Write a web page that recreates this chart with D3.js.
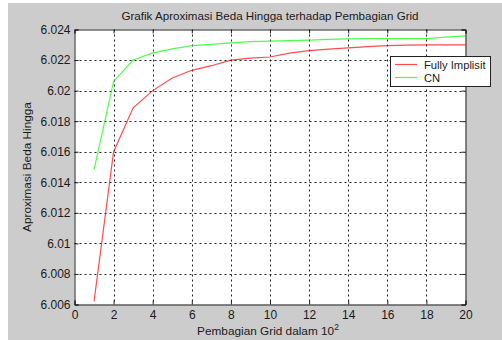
<!DOCTYPE html>
<html>
<head>
<meta charset="utf-8">
<script src="https://cdn.jsdelivr.net/npm/d3@7/dist/d3.min.js"></script>
<style>
  html, body { margin: 0; padding: 0; background: #fff; }
  svg { display: block; }
  text { font-family: "Liberation Sans", Arial, sans-serif; fill: #1a1a1a; }
</style>
</head>
<body>
<div id="chart"></div>
<script>
// Grid divisions (x 10^2)
const gridDiv = [1, 2, 3, 4, 5, 6, 7, 8, 9, 10, 11, 12, 13, 14, 15, 16, 17, 18, 19, 20]
// Fully Implisit approximation
const fullyImplisit = [6.0062, 6.0160, 6.01887, 6.0200, 6.02083, 6.02133, 6.02163, 6.0220, 6.02212, 6.0222,
  6.02245, 6.02262, 6.02272, 6.0228, 6.02288, 6.02295, 6.02298, 6.0230, 6.0230, 6.0230]
// CN approximation
const cn = [6.01483, 6.0206, 6.0220, 6.02247, 6.02273, 6.02295, 6.02302, 6.02313, 6.0232, 6.02324,
  6.02327, 6.0233, 6.02335, 6.02339, 6.0234, 6.0234, 6.0234, 6.0234, 6.0235, 6.02358]
const xTicks = [0, 2, 4, 6, 8, 10, 12, 14, 16, 18, 20]
const yTicks = [6.006, 6.008, 6.01, 6.012, 6.014, 6.016, 6.018, 6.02, 6.022, 6.024]
const seriesNames = ["Fully Implisit", "CN"]
const seriesColors = ["#ff0000", "#00ff00"]

const W = 502, H = 340
const ax = { left: 74.5, right: 465.5, top: 29.5, bottom: 304.5 }

const svg = d3.select("#chart").append("svg")
  .attr("width", W).attr("height", H)

// figure background (with the thin white margin of the screenshot)
svg.append("rect").attr("x", 8).attr("y", 3).attr("width", W - 8).attr("height", H - 3)
  .attr("fill", "#cccccc")

const x = d3.scaleLinear().domain([0, 20]).range([ax.left, ax.right])
const y = d3.scaleLinear().domain([6.006, 6.024]).range([ax.bottom, ax.top])

svg.append("rect")
  .attr("x", ax.left).attr("y", ax.top)
  .attr("width", ax.right - ax.left).attr("height", ax.bottom - ax.top)
  .attr("fill", "#ffffff")

// dotted grid
const grid = svg.append("g").attr("stroke", "#222").attr("stroke-width", 1)
  .attr("stroke-dasharray", "2,3")
xTicks.slice(1, -1).forEach(t => {
  grid.append("line").attr("x1", Math.round(x(t)) + 0.5).attr("x2", Math.round(x(t)) + 0.5)
    .attr("y1", ax.top).attr("y2", ax.bottom)
})
yTicks.slice(1, -1).forEach(t => {
  grid.append("line").attr("y1", Math.round(y(t)) + 0.5).attr("y2", Math.round(y(t)) + 0.5)
    .attr("x1", ax.left).attr("x2", ax.right)
})

// lines
const line = d3.line().x((d, i) => x(gridDiv[i])).y(d => y(d))
;[fullyImplisit, cn].forEach((s, k) => {
  svg.append("path").datum(s)
    .attr("d", line)
    .attr("fill", "none")
    .attr("stroke", seriesColors[k])
    .attr("stroke-width", 1.2)
    .attr("opacity", 0.7)
})

// axes (ticks inward, box)
const bottomAxis = d3.axisBottom(x).tickValues(xTicks).tickSize(-4).tickPadding(6)
  .tickFormat(d3.format("d"))
const leftAxis = d3.axisLeft(y).tickValues(yTicks).tickSize(-4).tickPadding(4)
  .tickFormat(d => d3.format("")(+d.toFixed(3)))

svg.append("g").attr("transform", `translate(0,${ax.bottom})`).call(bottomAxis)
svg.append("g").attr("transform", `translate(${ax.left},0)`).call(leftAxis)
svg.append("g").attr("transform", `translate(0,${ax.top})`)
  .call(d3.axisTop(x).tickValues(xTicks).tickSize(-4).tickFormat(""))
svg.append("g").attr("transform", `translate(${ax.right},0)`)
  .call(d3.axisRight(y).tickValues(yTicks).tickSize(-4).tickFormat(""))

svg.selectAll(".domain").attr("stroke", "#222")
svg.selectAll(".tick line").attr("stroke", "#222")
svg.selectAll(".tick text").attr("font-size", "12px").attr("fill", "#1a1a1a")
  .attr("font-family", "Liberation Sans, Arial, sans-serif")

// title and labels
svg.append("text").attr("x", (ax.left + ax.right) / 2).attr("y", 20)
  .attr("text-anchor", "middle").attr("font-size", "11.6px")
  .text("Grafik Aproximasi Beda Hingga terhadap Pembagian Grid")

svg.append("text")
  .attr("transform", `translate(31,${(ax.top + ax.bottom) / 2}) rotate(-90)`)
  .attr("text-anchor", "middle").attr("font-size", "11.8px")
  .text("Aproximasi Beda Hingga")

const xl = svg.append("text").attr("x", (ax.left + ax.right) / 2 - 2).attr("y", 335)
  .attr("text-anchor", "middle").attr("font-size", "11.8px")
xl.append("tspan").text("Pembagian Grid dalam 10")
xl.append("tspan").attr("dy", -5).attr("font-size", "8.5px").text("2")

// legend
const lg = svg.append("g")
lg.append("rect").attr("x", 390.5).attr("y", 56.5).attr("width", 100).attr("height", 30)
  .attr("fill", "#fff").attr("stroke", "#222")
seriesNames.forEach((n, i) => {
  const ly = 64.5 + i * 13
  lg.append("line").attr("x1", 395).attr("x2", 417).attr("y1", ly).attr("y2", ly)
    .attr("stroke", seriesColors[i]).attr("stroke-width", 1.2).attr("opacity", 0.7)
  lg.append("text").attr("x", 424).attr("y", ly + 4).attr("font-size", "11.2px").text(n)
})
</script>
</body>
</html>
